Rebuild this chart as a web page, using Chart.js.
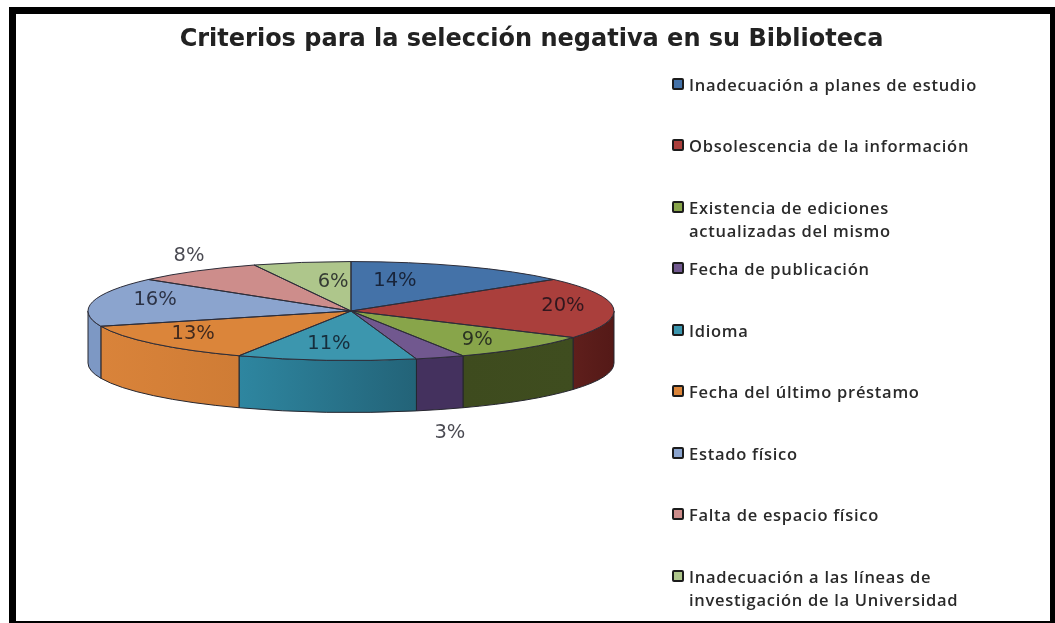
<!DOCTYPE html>
<html lang="es">
<head>
  <meta charset="UTF-8">
  <title>Criterios para la selección negativa en su Biblioteca</title>
  <script src="https://cdn.jsdelivr.net/npm/chart.js"></script>
  <style>
    html, body { margin: 0; padding: 0; background: #fff; overflow: hidden; }
    body { width: 1055px; height: 623px; position: relative; font-family: 'Open Sans', sans-serif; }
    canvas { position: absolute; left: 0; top: 0; }
    .frame {
      position: absolute; left: 9px; top: 7px; right: 0; bottom: 0;
      border: solid #000; border-width: 7px 5px 2px 7px;
      pointer-events: none;
    }
    #legend { position: absolute; left: 672px; top: 72.5px; margin: 0; padding: 0; list-style: none; }
    #legend li {
      height: 61.5px; width: 370px; display: flex; align-items: flex-start;
      font-size: 16.5px; font-weight: 600; line-height: 23px; color: #2a2a2a; letter-spacing: 0.72px;
    }
    #legend i {
      flex: none; width: 8px; height: 8px; margin: 5px 5px 0 0;
      border: 2px solid #1c1c1c; border-radius: 2px;
    }
  </style>
</head>
<body>

  <canvas id="pie" width="1055" height="623"></canvas>
  <ul id="legend"></ul>
  <div class="frame"></div>

  <script>
    const chartTitle = 'Criterios para la selección negativa en su Biblioteca';
    const categories = [
      'Inadecuación a planes de estudio',
      'Obsolescencia de la información',
      'Existencia de ediciones actualizadas del mismo',
      'Fecha de publicación',
      'Idioma',
      'Fecha del último préstamo',
      'Estado físico',
      'Falta de espacio físico',
      'Inadecuación a las líneas de investigación de la Universidad'
    ];
    const values = [14, 20, 9, 3, 11, 13, 16, 8, 6];
    const topColors = ['#4472a8', '#aa3f3c', '#88a54a', '#71588f', '#3c96ae', '#db853a', '#8ba4ce', '#cd8d8b', '#aec68b'];
    const sideColors = [
      ['#35598a', '#35598a'], ['#5f1f1c', '#541917'], ['#3e4b1e', '#3f4d1f'], ['#44315e', '#44315e'],
      ['#2e86a0', '#236378'], ['#d9833a', '#cf7c35'], ['#7d98c4', '#7d98c4'], ['#a06c6a', '#a06c6a'], ['#86a065', '#86a065']
    ];

    // where each % label sits, in units of the radius from the pie centre
    const labelSpots = [
      [0.167, -0.6], [0.806, -0.1], [0.48, 0.58], [0.376, 2.46], [-0.084, 0.667],
      [-0.6, 0.46], [-0.745, -0.22], [-0.616, -1.11], [-0.068, -0.59]
    ];

    const pieX = 351, pieY = 311, radius = 263, squash = 0.188, depth = 52;

    function toPiePlane(ctx, arc) {
      ctx.translate(pieX, pieY);
      ctx.scale(1, squash);
      ctx.translate(-arc.x, -arc.y);
    }

    const pie3d = {
      id: 'pie3d',
      beforeDatasetDraw(chart) {
        const ctx = chart.ctx;
        const arcs = chart.getDatasetMeta(0).data;
        const ry = radius * squash;

        // side wall, only the front half of the pie shows one
        arcs.forEach((arc, i) => {
          const s = Math.max(arc.startAngle, 0);
          const e = Math.min(arc.endAngle, Math.PI);
          if (e <= s) return;
          const x0 = pieX + radius * Math.cos(e), x1 = pieX + radius * Math.cos(s);
          const grad = ctx.createLinearGradient(x0, 0, x1, 0);
          grad.addColorStop(0, sideColors[i][0]);
          grad.addColorStop(1, sideColors[i][1]);
          ctx.beginPath();
          ctx.ellipse(pieX, pieY, radius, ry, 0, s, e);
          ctx.ellipse(pieX, pieY + depth, radius, ry, 0, e, s, true);
          ctx.closePath();
          ctx.fillStyle = grad;
          ctx.fill();
          ctx.strokeStyle = '#26262e';
          ctx.lineWidth = 1;
          ctx.stroke();
        });

        ctx.save();
        toPiePlane(ctx, arcs[0]);
      },
      afterDatasetDraw(chart) {
        const ctx = chart.ctx;
        const arcs = chart.getDatasetMeta(0).data;
        ctx.restore();

        // outlines: build the path squashed, stroke it unsquashed so the line stays even
        arcs.forEach(arc => {
          ctx.save();
          toPiePlane(ctx, arc);
          ctx.beginPath();
          ctx.moveTo(arc.x, arc.y);
          ctx.arc(arc.x, arc.y, arc.outerRadius, arc.startAngle, arc.endAngle);
          ctx.closePath();
          ctx.restore();
          ctx.strokeStyle = '#2c2c38';
          ctx.lineWidth = 1;
          ctx.stroke();
        });

        ctx.font = '19.5px "DejaVu Sans"';
        ctx.textAlign = 'center';
        ctx.textBaseline = 'middle';
        ctx.fillStyle = 'rgba(10, 10, 20, 0.74)';
        values.forEach((v, i) => {
          const x = pieX + labelSpots[i][0] * radius;
          const y = pieY + labelSpots[i][1] * radius * squash;
          ctx.fillText(v + '%', x, y);
        });
      }
    };

    new Chart(document.getElementById('pie'), {
      type: 'pie',
      data: {
        labels: categories,
        datasets: [{
          data: values,
          backgroundColor: topColors,
          borderWidth: 0,
          radius: radius,
          clip: false
        }]
      },
      options: {
        responsive: false,
        animation: false,
        layout: { padding: { left: 8 } },
        plugins: {
          legend: { display: false },
          tooltip: { enabled: false },
          title: {
            display: true,
            text: chartTitle,
            color: '#222',
            font: { family: '"DejaVu Sans"', size: 24, weight: 'bold' },
            padding: { top: 25, bottom: 0 }
          }
        }
      },
      plugins: [pie3d]
    });

    // legend keeps the reference's line breaks by wrapping inside a fixed width
    const legendWraps = { 2: 260, 8: 300 };
    const legend = document.getElementById('legend');
    categories.forEach((name, i) => {
      const li = document.createElement('li');
      const box = document.createElement('i');
      box.style.background = topColors[i];
      const span = document.createElement('span');
      span.textContent = name;
      if (legendWraps[i]) span.style.width = legendWraps[i] + 'px';
      li.append(box, span);
      legend.append(li);
    });
  </script>

</body>
</html>
